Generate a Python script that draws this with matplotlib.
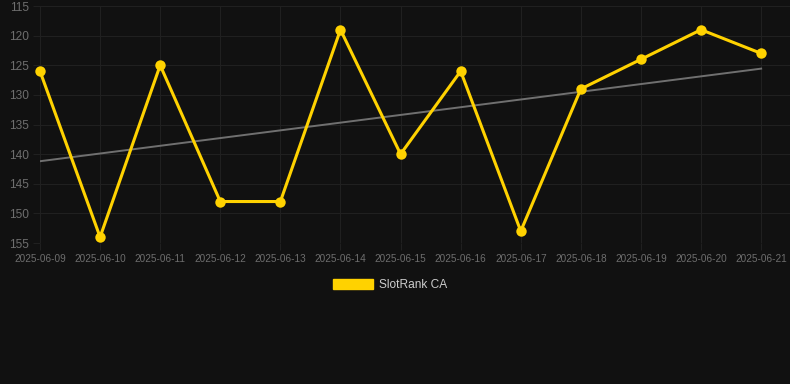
import numpy as np
import matplotlib
matplotlib.use("Agg")
import matplotlib.pyplot as plt
from matplotlib.patches import Patch

plt.rcParams['font.family'] = ['Liberation Sans', 'DejaVu Sans']

# ------------------------------------------------------------
# Data
# ------------------------------------------------------------
dates = ["2025-06-09", "2025-06-10", "2025-06-11", "2025-06-12", "2025-06-13",
         "2025-06-14", "2025-06-15", "2025-06-16", "2025-06-17", "2025-06-18",
         "2025-06-19", "2025-06-20", "2025-06-21"]
rank = [126, 154, 125, 148, 148, 119, 140, 126, 153, 129, 124, 119, 123]
y_ticks = [115, 120, 125, 130, 135, 140, 145, 150, 155]
series_name = "SlotRank CA"

bg = "#111111"
grid_col = "#202020"
tick_col = "#6e6e6e"
yellow = "#FFD200"
trend_col = "#707070"

W, H = 790, 384
fig = plt.figure(figsize=(W / 100, H / 100), dpi=100, facecolor=bg)
ax = fig.add_axes([40 / W, 1 - 243 / H, (W - 40) / W, (243 - 6) / H])
ax.set_facecolor(bg)

x = np.arange(len(dates))

# linear trend through the ranks
slope, icpt = np.polyfit(x, rank, 1)
ax.plot(x, slope * x + icpt, color=trend_col, lw=1.4, zorder=2)

ax.plot(x, rank, color=yellow, lw=2.2, marker="o", ms=7.5,
        markeredgewidth=0, zorder=3, clip_on=False)

ax.set_xlim(0, 12.48)
ax.set_ylim(155, 115)
ax.set_yticks(y_ticks)
ax.set_xticks(x)
ax.set_xticklabels(dates)

ax.grid(True, color=grid_col, lw=0.8)
for s in ax.spines.values():
    s.set_visible(False)
ax.tick_params(axis="x", colors=grid_col, labelcolor=tick_col, labelsize=7.2,
               length=5, width=0.8, pad=3)
ax.tick_params(axis="y", colors=grid_col, labelcolor=tick_col, labelsize=8.6,
               length=5, width=0.8, pad=3)

fig.legend(handles=[Patch(facecolor=yellow, edgecolor=yellow)],
           labels=[series_name], loc="center",
           bbox_to_anchor=(390 / W, 1 - 285 / H),
           frameon=False, fontsize=8.6, labelcolor="#cccccc",
           handlelength=3.3, handleheight=1.0, handletextpad=0.5)

fig.savefig("out.png", dpi=100, facecolor=bg)
